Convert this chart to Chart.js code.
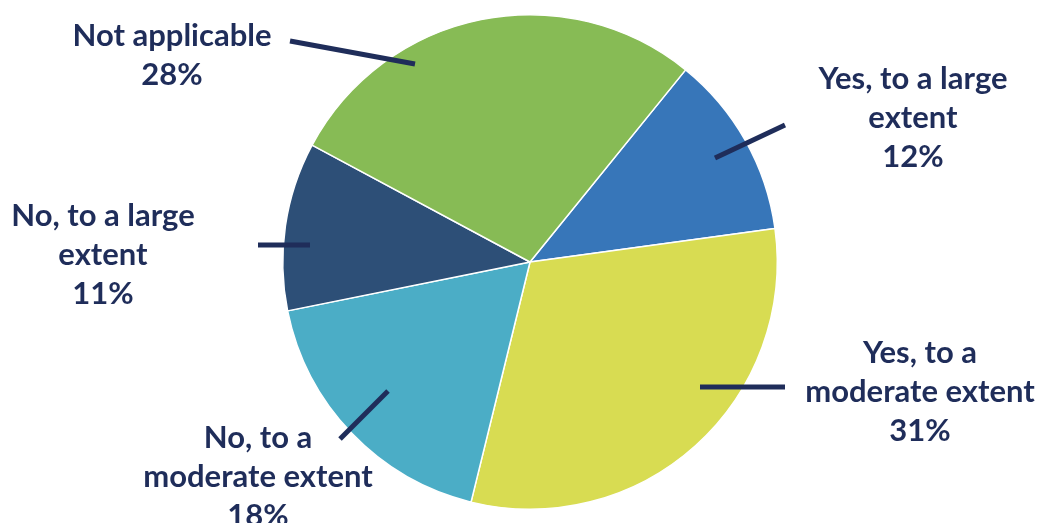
<!DOCTYPE html>
<html>
<head>
<meta charset="utf-8">
<script src="https://cdn.jsdelivr.net/npm/chart.js@4/dist/chart.umd.min.js"></script>
<style>
  html, body { margin: 0; padding: 0; background: #fff; }
  #wrap { width: 1040px; height: 523px; }
</style>
</head>
<body>
<div id="wrap"><canvas id="myChart"></canvas></div>
<script>
const categories = ['Yes, to a large extent', 'Yes, to a moderate extent', 'No, to a moderate extent', 'No, to a large extent', 'Not applicable'];
const shares = [12, 31, 18, 11, 28];
const sliceColors = ['#3776B9', '#D8DC52', '#4BADC6', '#2D4F77', '#87BB55'];
const labelLines = [
  ['Yes, to a large', 'extent'],
  ['Yes, to a', 'moderate extent'],
  ['No, to a', 'moderate extent'],
  ['No, to a large', 'extent'],
  ['Not applicable']
];

// leader line (inner -> outer) and text anchor, as offsets from the pie centre
const callouts = [
  { inner: [185, -104], outer: [255, -137], text: [383, -183] },
  { inner: [170, 125], outer: [255, 125], text: [390, 91] },
  { inner: [-142, 129], outer: [-190, 177], text: [-272, 176] },
  { inner: [-220, -17], outer: [-272, -17], text: [-427, -46] },
  { inner: [-115, -198], outer: [-240, -221], text: [-358, -226] }
];

const ink = '#1F2D5A';
const lineGap = 39;

const calloutPlugin = {
  id: 'callouts',
  afterDatasetsDraw(chart) {
    const ctx = chart.ctx;
    const arcs = chart.getDatasetMeta(0).data;
    ctx.save();
    ctx.font = 'bold 31px Lato';
    ctx.fillStyle = ink;
    ctx.strokeStyle = ink;
    ctx.lineWidth = 5;
    ctx.textAlign = 'center';
    ctx.textBaseline = 'middle';
    arcs.forEach((arc, i) => {
      const cx = arc.x, cy = arc.y;
      const c = callouts[i];
      ctx.beginPath();
      ctx.moveTo(cx + c.inner[0], cy + c.inner[1]);
      ctx.lineTo(cx + c.outer[0], cy + c.outer[1]);
      ctx.stroke();
      const lines = labelLines[i].concat([shares[i] + '%']);
      lines.forEach((t, k) => {
        ctx.fillText(t, cx + c.text[0], cy + c.text[1] + k * lineGap);
      });
    });
    ctx.restore();
  }
};

new Chart('myChart', {
  type: 'pie',
  data: {
    labels: categories,
    datasets: [{
      data: shares,
      backgroundColor: sliceColors,
      borderColor: '#ffffff',
      borderWidth: 1.5
    }]
  },
  options: {
    responsive: true,
    maintainAspectRatio: false,
    animation: false,
    rotation: 39,
    layout: { padding: { left: 20, top: 14, bottom: 13 } },
    plugins: {
      legend: { display: false },
      tooltip: { enabled: false }
    }
  },
  plugins: [calloutPlugin]
});
</script>
</body>
</html>
